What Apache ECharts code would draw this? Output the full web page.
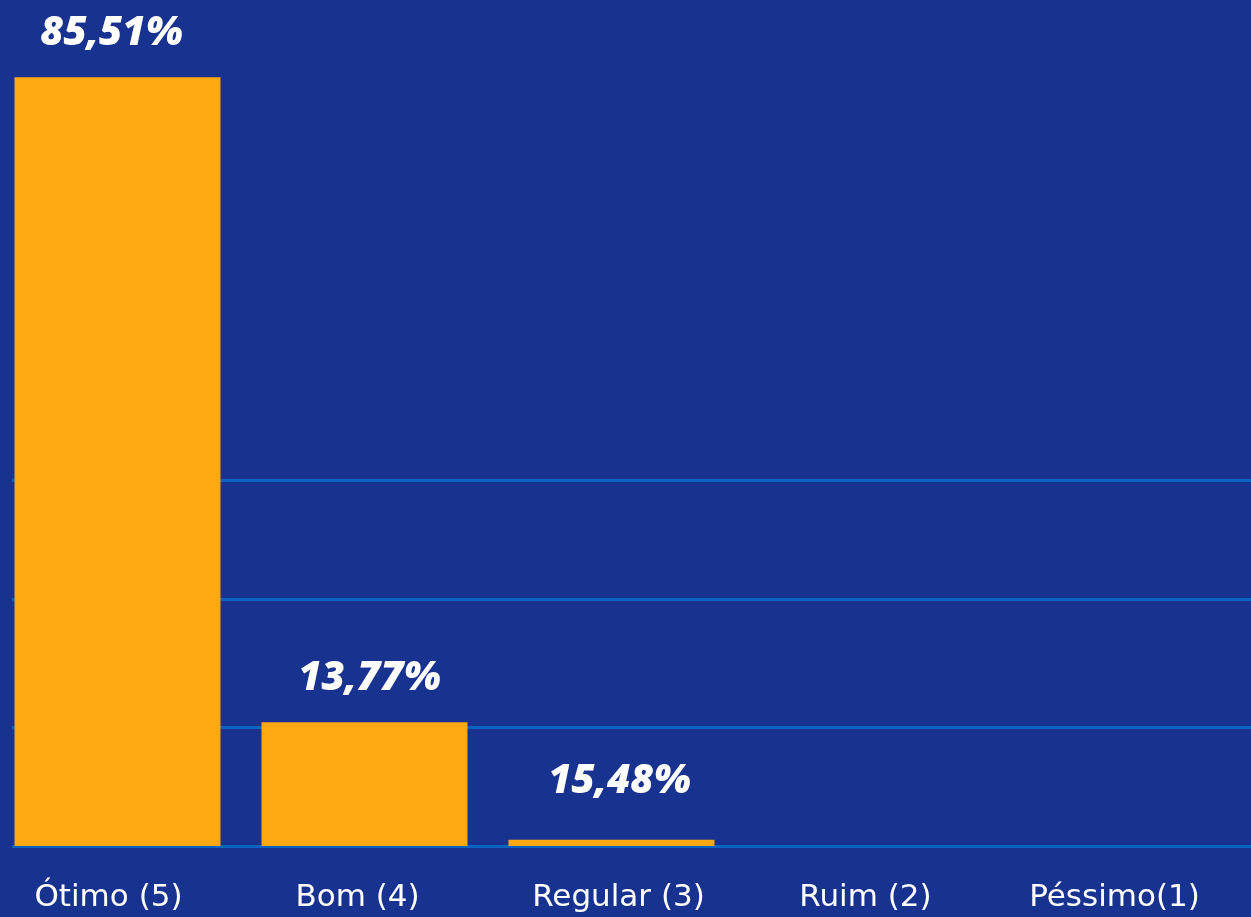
<!DOCTYPE html>
<html><head><meta charset="utf-8">
<script src="https://cdn.jsdelivr.net/npm/echarts@6/dist/echarts.min.js"></script>
<style>html,body{margin:0;padding:0;background:#17328f;overflow:hidden;}#c{position:absolute;left:-6px;top:0;width:1257px;height:917px;}</style>
</head><body><div id="c"></div>
<script>
const categories = ["Ótimo (5)", "Bom (4)", "Regular (3)", "Ruim (2)", "Péssimo(1)"];
const barValues = [85.51, 13.77, 0.7, 0, 0];
const barLabels = ["85,51%", "13,77%", "15,48%", "", ""];
const gridLineValues = [0, 13.2, 27.4, 40.7];

// small horizontal nudges (px) for text placement, matching the reference layout
const axisLabelShift = [-9, -7, 7, 7, 9];
const valueLabelOffset = [[-6, 0], [5, 0], [8, -14], [0, 0], [0, 0]];

const rich = {};
axisLabelShift.forEach((s, i) => {
  rich['c' + i] = {
    color: '#ffffff', fontFamily: 'DejaVu Sans', fontSize: 31,
    padding: s < 0 ? [0, -2 * s, 0, 0] : [0, 0, 0, 2 * s]
  };
});

const chart = echarts.init(document.getElementById('c'));
chart.setOption({
  backgroundColor: '#17328f',
  animation: false,
  grid: [
    { left: 0, right: 22, top: 1, bottom: 71, containLabel: false },
    { left: 18, right: 0, top: 1, bottom: 71, containLabel: false }
  ],
  xAxis: [
    {
      type: 'category', data: categories, gridIndex: 0,
      axisLine: { show: false }, axisTick: { show: false },
      axisLabel: {
        interval: 0, hideOverlap: false,
        color: '#ffffff', fontFamily: 'DejaVu Sans', fontSize: 31, margin: 36,
        formatter: (v, i) => '{c' + i + '|' + v + '}',
        rich: rich
      }
    },
    { type: 'category', data: categories, gridIndex: 1, show: false }
  ],
  yAxis: [
    { type: 'value', min: 0, max: 94, show: false, splitLine: { show: false }, gridIndex: 0 },
    { type: 'value', min: 0, max: 94, show: false, splitLine: { show: false }, gridIndex: 1 }
  ],
  series: [
    {
      type: 'line', data: [], xAxisIndex: 1, yAxisIndex: 1, zlevel: 0, z: 1, silent: true,
      markLine: {
        silent: true, symbol: 'none', label: { show: false },
        lineStyle: { color: '#0b63c1', width: 3, type: 'solid' },
        data: gridLineValues.map(v => ({ yAxis: v }))
      }
    },
    {
      type: 'bar', zlevel: 1, z: 3, barCategoryGap: '16.6%',
      itemStyle: { color: '#ffa812' },
      data: barValues.map((v, i) => ({
        value: v,
        label: { offset: valueLabelOffset[i] }
      })),
      label: {
        show: true, position: 'top', distance: 24,
        color: '#ffffff', fontFamily: 'Open Sans', fontWeight: 800, fontStyle: 'italic', fontSize: 40,
        formatter: p => barLabels[p.dataIndex]
      }
    }
  ]
});
</script></body></html>
